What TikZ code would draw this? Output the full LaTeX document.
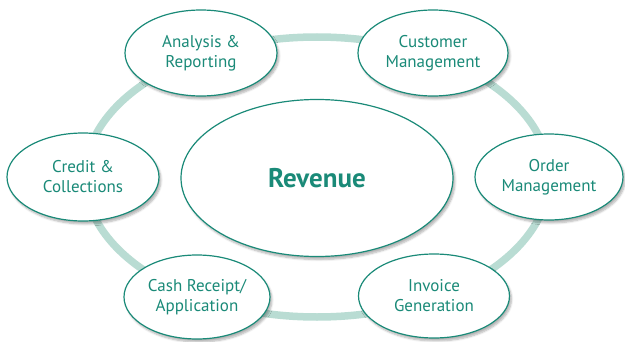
\documentclass[tikz,border=0pt]{standalone}
\usepackage{fontspec}
\setmainfont{PT Sans}
\usetikzlibrary{shapes.geometric,shadows.blur}
\definecolor{teal1}{HTML}{1A8A78}
\definecolor{ringc}{HTML}{B9DCD3}
\tikzset{
  proc/.style={ellipse, draw=teal1, line width=1.2pt, fill=white, text=teal1,
    align=center, font=\fontsize{17}{20}\selectfont, inner sep=0pt,
    blur shadow={shadow xshift=2pt, shadow yshift=-3pt, shadow blur steps=6, shadow opacity=30}},
  ring/.style={draw=ringc, line width=7.5pt}
}
\begin{document}
\begin{tikzpicture}[x=1pt,y=1pt]
\useasboundingbox (0,0) rectangle (625,341);
\draw[ring] (317,164) ellipse [x radius=232, y radius=140];
\node[proc, minimum width=272pt, minimum height=157pt, font=\fontsize{27}{30}\bfseries] (rev) at (317,163) {Revenue};
\node[proc, minimum width=152pt, minimum height=86pt] (ana) at (201,288) {Analysis \&\\Reporting};
\node[proc, minimum width=150pt, minimum height=86pt] (cus) at (433,288) {Customer\\Management};
\node[proc, minimum width=148pt, minimum height=86pt] (ord) at (549,164) {Order\\Management};
\node[proc, minimum width=152pt, minimum height=88pt] (cre) at (83,164) {Credit \&\\Collections};
\node[proc, minimum width=146pt, minimum height=84pt] (cas) at (197,44) {Cash Receipt/\\Application};
\node[proc, minimum width=151pt, minimum height=84pt] (inv) at (434,45) {Invoice\\Generation};
\end{tikzpicture}
\end{document}
